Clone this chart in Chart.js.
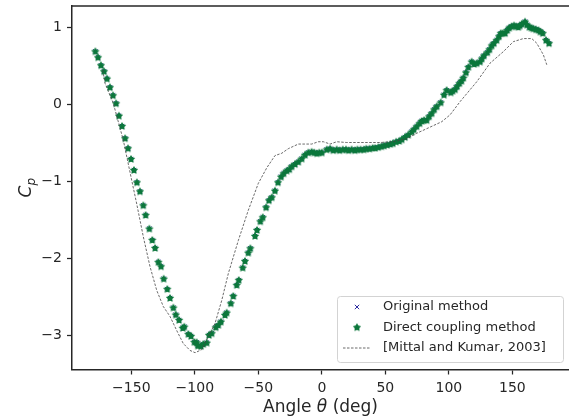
<!DOCTYPE html>
<html>
<head>
<meta charset="utf-8">
<script src="https://cdn.jsdelivr.net/npm/chart.js@4.4.1/dist/chart.umd.min.js"></script>
<style>
  html, body { margin: 0; padding: 0; background: #fff; }
</style>
</head>
<body>
<canvas id="cp" width="569" height="420"></canvas>
<script>
// angle (deg) and pressure coefficient
const theta = [
  -178.3, -176.2, -173.9, -171.5, -169.1, -166.8, -164.4, -162.0, -159.7, -157.3,
  -154.9, -152.6, -150.2, -147.9, -145.6, -143.2, -140.6, -138.7, -135.8, -133.5,
  -131.3, -128.7, -126.6, -124.5, -121.7, -119.5, -116.9, -115.0, -112.4, -109.5,
  -108.3, -105.1, -103.0, -100.4, -98.5, -97.7, -95.1, -93.3, -90.6, -88.8,
  -86.7, -83.5, -81.5, -79.4, -76.2, -74.9, -71.7, -69.7, -67.0, -65.4,
  -62.3, -60.5, -57.9, -56.3, -52.6, -51.0, -48.4, -46.5, -43.9, -41.6,
  -39.4, -36.9, -34.5, -32.1, -30.0, -27.6, -25.6, -23.7, -21.1, -18.5,
  -15.8, -13.2, -10.6, -8.0, -6.0, -4.0, -2.0, 0.0, 3.9, 6.5,
  9.0, 11.7, 14.0, 16.5, 19.0, 21.0, 23.5, 26.0, 28.0, 30.5,
  33.0, 35.0, 37.5, 40.0, 42.0, 44.5, 47.0, 49.0, 51.5, 54.0,
  56.0, 58.5, 61.0, 63.0, 65.5, 68.0, 70.8, 72.5, 74.7, 77.0,
  78.7, 80.5, 82.6, 84.5, 86.5, 88.5, 90.5, 93.6, 96.2, 98.3,
  101.5, 103.0, 104.9, 106.5, 108.3, 110.0, 111.4, 113.5, 115.4, 118.0,
  120.0, 122.0, 124.6, 126.0, 127.7, 130.3, 132.0, 133.8, 135.5, 137.7,
  139.5, 140.9, 142.5, 144.3, 146.0, 147.6, 149.5, 151.3, 153.0, 154.7,
  156.0, 157.4, 160.0, 161.5, 163.4, 165.0, 166.5, 168.5, 170.5, 172.0,
  173.9, 176.5, 178.9
];
const cpDirect = [
  0.684, 0.606, 0.503, 0.425, 0.329, 0.217, 0.113, 0.009, -0.152, -0.286,
  -0.445, -0.575, -0.714, -0.857, -1.017, -1.134, -1.316, -1.442, -1.619, -1.766,
  -1.870, -2.052, -2.108, -2.269, -2.403, -2.519, -2.645, -2.736, -2.805, -2.909,
  -2.892, -2.987, -3.013, -3.091, -3.095, -3.139, -3.143, -3.117, -3.100, -3.000,
  -2.978, -2.900, -2.870, -2.827, -2.740, -2.710, -2.589, -2.494, -2.351, -2.286,
  -2.126, -2.039, -1.931, -1.874, -1.714, -1.636, -1.524, -1.471, -1.342, -1.251,
  -1.212, -1.126, -1.017, -0.944, -0.900, -0.866, -0.848, -0.810, -0.780, -0.750,
  -0.710, -0.660, -0.630, -0.620, -0.630, -0.640, -0.630, -0.630, -0.590, -0.580,
  -0.600, -0.590, -0.600, -0.590, -0.590, -0.600, -0.590, -0.600, -0.590, -0.590,
  -0.590, -0.580, -0.580, -0.570, -0.570, -0.560, -0.550, -0.540, -0.530, -0.520,
  -0.510, -0.490, -0.480, -0.460, -0.430, -0.400, -0.360, -0.330, -0.290, -0.250,
  -0.220, -0.210, -0.210, -0.160, -0.120, -0.070, -0.030, 0.020, 0.120, 0.180,
  0.150, 0.170, 0.190, 0.230, 0.270, 0.300, 0.340, 0.410, 0.480, 0.550,
  0.520, 0.530, 0.550, 0.590, 0.630, 0.670, 0.710, 0.760, 0.790, 0.830,
  0.880, 0.920, 0.920, 0.920, 0.960, 0.990, 1.010, 1.020, 1.010, 1.000,
  1.020, 1.040, 1.070, 1.030, 1.000, 0.990, 0.980, 0.970, 0.960, 0.940,
  0.920, 0.830, 0.790
];
// the original method sits under the direct-coupling stars at this scale
const cpOriginal = cpDirect;

const thetaMittal = [
  -172.5, -170.7, -164.2, -156.3, -149.7, -145.7, -140.6, -135.3, -130.0, -124.8,
  -119.5, -114.3, -109.1, -103.8, -99.8, -94.6, -89.4, -84.1, -78.8, -73.6,
  -65.7, -57.9, -50.0, -43.4, -36.9, -31.6, -26.4, -18.5, -8.0, -2.8,
  1.2, 6.5, 11.7, 19.6, 27.5, 45.8, 56.3, 66.9, 74.7, 82.6,
  94.4, 101.0, 108.8, 122.0, 132.4, 142.9, 150.8, 158.7, 165.3, 169.2,
  174.4, 177.1
];
const cpMittal = [
  0.44, 0.27, 0.01, -0.47, -0.99, -1.30, -1.72, -2.11, -2.42, -2.63,
  -2.76, -2.94, -3.11, -3.20, -3.23, -3.19, -3.02, -2.85, -2.55, -2.20,
  -1.77, -1.38, -1.03, -0.83, -0.67, -0.64, -0.58, -0.52, -0.52, -0.49,
  -0.49, -0.52, -0.49, -0.50, -0.50, -0.50, -0.49, -0.45, -0.38, -0.32,
  -0.23, -0.14, 0.03, 0.29, 0.53, 0.68, 0.81, 0.85, 0.85, 0.79,
  0.64, 0.51
];

const xTicks = [-150, -100, -50, 0, 50, 100, 150];
const yTicks = [-3, -2, -1, 0, 1];
const labels = ['Original method', 'Direct coupling method', '[Mittal and Kumar, 2003]'];

const INK = '#262626';
const GREEN = '#0b773b';
const BLUE = '#2c2ca0';
const FONT = 'DejaVu Sans';

function starImage(color) {
  const c = document.createElement('canvas');
  c.width = 10; c.height = 10;
  const g = c.getContext('2d');
  g.fillStyle = color;
  g.beginPath();
  for (let i = 0; i < 10; i++) {
    const r = i % 2 ? 2.4 : 4.3;
    const a = -Math.PI / 2 + i * Math.PI / 5;
    g.lineTo(5 + r * Math.cos(a), 5.3 + r * Math.sin(a));
  }
  g.closePath();
  g.fill();
  return c;
}
const star = starImage(GREEN);

const fmt = v => String(v).replace('-', '\u2212');

function pairs(xs, ys) {
  return xs.map((x, i) => ({ x: x, y: ys[i] }));
}

// spine on top, axis titles with italic parts, and the boxed legend
const decorations = {
  id: 'decorations',
  afterDraw(chart) {
    const ctx = chart.ctx, a = chart.chartArea;
    ctx.save();
    ctx.strokeStyle = INK;
    ctx.lineWidth = 1.5;
    ctx.beginPath();
    ctx.moveTo(a.left - 0.75, a.top);
    ctx.lineTo(a.right, a.top);
    ctx.stroke();

    ctx.fillStyle = INK;
    ctx.textBaseline = 'alphabetic';
    // x title
    const parts = [['Angle ', ''], ['\u03b8', 'italic '], [' (deg)', '']];
    let total = 0;
    parts.forEach(p => { ctx.font = p[1] + '17px ' + FONT; total += ctx.measureText(p[0]).width; });
    let x = (a.left + a.right) / 2 - total / 2;
    parts.forEach(p => {
      ctx.font = p[1] + '17px ' + FONT;
      ctx.fillText(p[0], x, 412);
      x += ctx.measureText(p[0]).width;
    });
    // y title C_p
    ctx.save();
    ctx.translate(31, (a.top + a.bottom) / 2);
    ctx.rotate(-Math.PI / 2);
    ctx.font = 'italic 17px ' + FONT;
    const wC = ctx.measureText('C').width;
    ctx.font = 'italic 12px ' + FONT;
    const wp = ctx.measureText('p').width;
    const x0 = -(wC + wp) / 2;
    ctx.font = 'italic 17px ' + FONT;
    ctx.fillText('C', x0, 0);
    ctx.font = 'italic 12px ' + FONT;
    ctx.fillText('p', x0 + wC, 3.5);
    ctx.restore();

    // legend
    const bx = 337.5, by = 296.5, bw = 226, bh = 66;
    ctx.beginPath();
    ctx.roundRect(bx, by, bw, bh, 3);
    ctx.fillStyle = 'rgba(255,255,255,0.85)';
    ctx.fill();
    ctx.strokeStyle = '#d3d3d3';
    ctx.lineWidth = 1;
    ctx.stroke();

    const rows = [307, 327.5, 348];
    const mx = 357;
    // x marker
    ctx.strokeStyle = BLUE;
    ctx.lineWidth = 1;
    ctx.beginPath();
    ctx.moveTo(mx - 2.2, rows[0] - 2.2); ctx.lineTo(mx + 2.2, rows[0] + 2.2);
    ctx.moveTo(mx + 2.2, rows[0] - 2.2); ctx.lineTo(mx - 2.2, rows[0] + 2.2);
    ctx.stroke();
    // star marker
    ctx.drawImage(star, mx - 5, rows[1] - 5.3);
    // dashed line
    ctx.strokeStyle = '#444';
    ctx.lineWidth = 0.8;
    ctx.setLineDash([2.5, 1.5]);
    ctx.beginPath();
    ctx.moveTo(343, rows[2]); ctx.lineTo(371, rows[2]);
    ctx.stroke();
    ctx.setLineDash([]);

    ctx.fillStyle = INK;
    ctx.font = '13px ' + FONT;
    ctx.textBaseline = 'middle';
    labels.forEach((t, i) => ctx.fillText(t, 383, rows[i]));
    ctx.restore();
  }
};

const axisBase = {
  type: 'linear',
  grid: { drawOnChartArea: false, tickLength: 5, tickWidth: 1.25, tickColor: INK },
  border: { display: true, color: INK, width: 1.5 },
  ticks: {
    color: INK,
    font: { family: FONT, size: 14 },
    padding: 5,
    maxRotation: 0,
    autoSkip: false,
    callback: v => fmt(v)
  }
};

// keep the plot box where the reference has it
function pinBox(s, size) {
  if (s.isHorizontal()) s.height = size; else s.width = size;
  s.paddingTop = 0; s.paddingBottom = 0;
  s.paddingLeft = 0; s.paddingRight = 0;
}

new Chart(document.getElementById('cp'), {
  type: 'scatter',
  data: {
    datasets: [
      {
        label: labels[0],
        data: pairs(theta, cpOriginal),
        pointStyle: 'crossRot',
        pointRadius: 3,
        borderColor: BLUE,
        backgroundColor: BLUE,
        pointBorderWidth: 1,
        order: 3
      },
      {
        label: labels[1],
        data: pairs(theta, cpDirect),
        pointStyle: star,
        pointRadius: 4,
        borderColor: GREEN,
        backgroundColor: GREEN,
        order: 2
      },
      {
        label: labels[2],
        data: pairs(thetaMittal, cpMittal),
        showLine: true,
        pointRadius: 0,
        borderColor: '#444',
        borderWidth: 0.8,
        borderDash: [2.5, 1.5],
        tension: 0,
        order: 1
      }
    ]
  },
  options: {
    responsive: false,
    animation: false,
    events: [],
    layout: { autoPadding: false, padding: { top: 6, right: 0, bottom: 0, left: 0 } },
    plugins: { legend: { display: false }, tooltip: { enabled: false } },
    scales: {
      x: Object.assign({}, axisBase, {
        min: -196.7,
        max: 194.6,
        afterBuildTicks: s => { s.ticks = xTicks.map(v => ({ value: v })); },
        afterFit: s => pinBox(s, 50.5)
      }),
      y: Object.assign({}, axisBase, {
        min: -3.448,
        max: 1.273,
        afterBuildTicks: s => { s.ticks = yTicks.map(v => ({ value: v })); },
        afterFit: s => pinBox(s, 72)
      })
    }
  },
  plugins: [decorations]
});
</script>
</body>
</html>
